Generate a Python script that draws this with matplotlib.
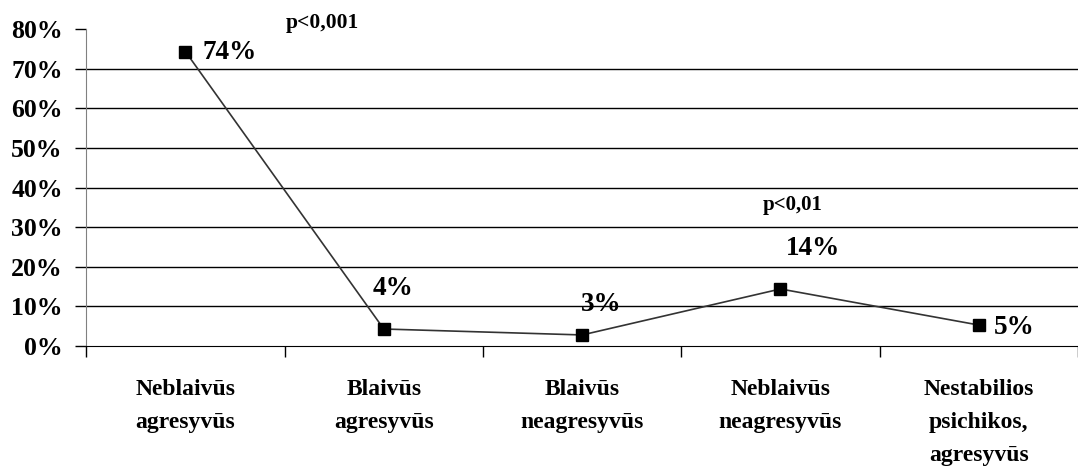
import numpy as np
import matplotlib
matplotlib.use('Agg')
import matplotlib.pyplot as plt

# duomenys
kategorijos = ['Neblaivūs\nagresyvūs', 'Blaivūs\nagresyvūs', 'Blaivūs\nneagresyvūs',
               'Neblaivūs\nneagresyvūs', 'Nestabilios\npsichikos,\nagresyvūs']
reiksmes = [74.3, 4.3, 2.8, 14.4, 5.3]
zymes = ['74%', '4%', '3%', '14%', '5%']
p_tekstai = ['p<0,001', 'p<0,01']
y_ticks = [0, 10, 20, 30, 40, 50, 60, 70, 80]

plt.rcParams['font.family'] = ['Liberation Serif', 'DejaVu Serif']
plt.rcParams['font.weight'] = 'bold'

fig = plt.figure(figsize=(10.78, 4.67), dpi=100)
ax = fig.add_axes([0.08, 0.259, 0.92, 0.679])

x = np.arange(len(kategorijos))
ax.plot(x, reiksmes, color='#333333', lw=1.2, marker='s', markersize=8.5,
        markerfacecolor='black', markeredgecolor='black', zorder=3)

ax.set_xlim(-0.5, 4.5)
ax.set_ylim(0, 80)

# tinklelis
for v in y_ticks[1:-1]:
    ax.axhline(v, color='black', lw=1, zorder=1)

ax.set_yticks(y_ticks)
ax.set_yticklabels([f'{v}%' for v in y_ticks], fontsize=18.5, fontweight='bold')
ax.tick_params(axis='y', length=8, width=1, pad=9)

ax.set_xticks(np.arange(-0.5, 5.0, 1.0))
ax.set_xticklabels([])
ax.tick_params(axis='x', which='major', length=8, width=1, direction='out')
ax.set_xticks(x, minor=True)
ax.set_xticklabels(kategorijos, minor=True, fontsize=17, fontweight='bold',
                   linespacing=1.75, va='top')
ax.tick_params(axis='x', which='minor', length=0, pad=24)

ax.spines['top'].set_visible(False)
ax.spines['right'].set_visible(False)
ax.spines['left'].set_color('#808080')
ax.spines['bottom'].set_color('black')

# reiksmiu zymes
poslinkiai = [(12, -1, 'left', 'center'), (-8, 20, 'left', 'bottom'),
              (-0.5, 13, 'left', 'bottom'), (4, 20, 'left', 'bottom'),
              (10.5, -2, 'left', 'center')]
for xi, yi, t, (dx, dy, ha, va) in zip(x, reiksmes, zymes, poslinkiai):
    ax.annotate(t, (xi, yi), xytext=(dx, dy), textcoords='offset points',
                ha=ha, va=va, fontsize=19.5, fontweight='bold')

ax.text(0.69, 81.6, p_tekstai[0], ha='center', va='center', fontsize=15.5,
        fontweight='bold', clip_on=False)
ax.text(3.06, 35.6, p_tekstai[1], ha='center', va='center', fontsize=15,
        fontweight='bold')

fig.savefig('out.png', dpi=100)
